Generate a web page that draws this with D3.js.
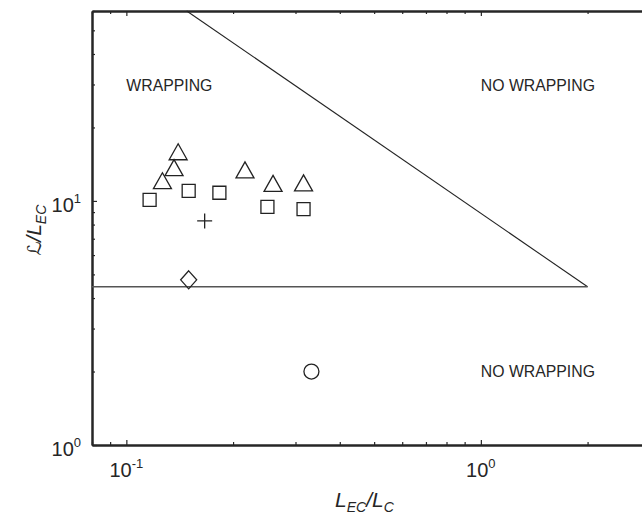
<!DOCTYPE html>
<html>
  <head>
    <style>
      body {
        margin: 0;
        background: #fff;
        overflow: hidden;
      }
      svg {
        display: block;
        overflow: hidden;
      }
      svg text {
        font-family: "Liberation Sans", Arial, sans-serif;
        fill: #262626;
      }
      .axis path,
      .axis line {
        stroke: #262626;
      }
    </style>
    <script src="https://d3js.org/d3.v7.min.js"></script>
  </head>
  <body>
    <script>
      // data (L_EC/L_C, L/L_EC)
      const triangles = [
        [0.14, 15.9],
        [0.1363, 13.7],
        [0.1264, 12.1],
        [0.2161, 13.4],
        [0.2593, 11.8],
        [0.3161, 11.85],
      ];
      const squares = [
        [0.1163, 10.1],
        [0.1499, 11.0],
        [0.183, 10.8],
        [0.25, 9.45],
        [0.3161, 9.25],
      ];
      const pluses = [[0.1663, 8.28]];
      const diamonds = [[0.1499, 4.75]];
      const circles = [[0.3327, 2.0]];

      // regime boundaries
      const diagLine = [
        [0.148, 60],
        [2, 4.45],
      ];
      const flatLine = [
        [0.08, 4.45],
        [2, 4.45],
      ];

      const xMajor = [0.1, 1];
      const xExp = ["-1", "0"];
      const xMinor = [0.08, 0.09, 0.2, 0.3, 0.4, 0.5, 0.6, 0.7, 0.8, 0.9, 2];
      const yMajor = [1, 10];
      const yExp = ["0", "1"];
      const yMinor = [2, 3, 4, 5, 6, 7, 8, 9, 20, 30, 40, 50, 60];

      const regionLabels = [
        { text: "WRAPPING", x: 0.1, y: 28.2 },
        { text: "NO WRAPPING", x: 1, y: 28.2 },
        { text: "NO WRAPPING", x: 1, y: 1.9 },
      ];

      const width = 642;
      const height = 516;
      const mLeft = 92;
      const mTop = 11;
      const mRight = 650; // right frame falls just outside the picture
      const mBottom = 445;

      const svg = d3
        .select("body")
        .append("svg")
        .attr("width", width)
        .attr("height", height);

      const x = d3.scaleLog().domain([0.08, 3]).range([mLeft, mRight]);
      const y = d3.scaleLog().domain([1, 60]).range([mBottom, mTop]);

      // ticks point inward
      const addAxis = (axis, tr, vals, size) => {
        svg
          .append("g")
          .attr("class", "axis")
          .attr("transform", tr)
          .call(axis.tickValues(vals).tickSize(size).tickSizeOuter(0).tickFormat(""))
          .call((g) => g.select(".domain").attr("stroke-width", 2))
          .call((g) => g.selectAll(".tick line").attr("stroke-width", 1.2));
      };

      addAxis(d3.axisBottom(x), `translate(0,${mBottom})`, xMinor, -3);
      addAxis(d3.axisBottom(x), `translate(0,${mBottom})`, xMajor, -5);
      addAxis(d3.axisTop(x), `translate(0,${mTop})`, xMinor, -3);
      addAxis(d3.axisTop(x), `translate(0,${mTop})`, xMajor, -5);
      addAxis(d3.axisLeft(y), `translate(${mLeft},0)`, yMinor, -3);
      addAxis(d3.axisLeft(y), `translate(${mLeft},0)`, yMajor, -5);

      // tick labels with superscript exponents
      const xl = svg
        .selectAll(".xlab")
        .data(xMajor)
        .join("text")
        .attr("class", "xlab")
        .attr("x", (d) => x(d))
        .attr("y", mBottom + 32)
        .attr("text-anchor", "middle")
        .style("font-size", "20px");
      xl.append("tspan").text("10");
      xl.append("tspan")
        .attr("dy", -9)
        .style("font-size", "13px")
        .text((d, i) => xExp[i]);

      const yl = svg
        .selectAll(".ylab")
        .data(yMajor)
        .join("text")
        .attr("class", "ylab")
        .attr("x", 81)
        .attr("y", (d) => y(d) + 11)
        .attr("text-anchor", "end")
        .style("font-size", "20px");
      yl.append("tspan").text("10");
      yl.append("tspan")
        .attr("dy", -9)
        .style("font-size", "13px")
        .text((d, i) => yExp[i]);

      // axis titles
      const xt = svg
        .append("text")
        .attr("x", 335)
        .attr("y", 507)
        .style("font-size", "21px")
        .style("font-style", "italic");
      xt.append("tspan").text("L");
      xt.append("tspan").attr("dy", 5).style("font-size", "14px").text("EC");
      xt.append("tspan").attr("dy", -5).text("/L");
      xt.append("tspan").attr("dy", 5).style("font-size", "14px").text("C");

      const yt = svg
        .append("text")
        .attr("transform", "translate(41,230) rotate(-90)")
        .attr("text-anchor", "middle")
        .style("font-size", "21px")
        .style("font-style", "italic");
      yt.append("tspan")
        .style("font-family", "'DejaVu Sans'")
        .style("font-size", "19px")
        .text("\u2112");
      yt.append("tspan").text("/L");
      yt.append("tspan").attr("dy", 5).style("font-size", "14px").text("EC");

      // boundaries
      const line = d3
        .line()
        .x((d) => x(d[0]))
        .y((d) => y(d[1]));
      svg
        .append("path")
        .datum(diagLine)
        .attr("d", line)
        .attr("fill", "none")
        .attr("stroke", "#222")
        .attr("stroke-width", 1.1);
      svg
        .append("path")
        .datum(flatLine)
        .attr("d", line)
        .attr("fill", "none")
        .attr("stroke", "#555")
        .attr("stroke-width", 1.4);

      svg
        .selectAll(".region")
        .data(regionLabels)
        .join("text")
        .attr("class", "region")
        .attr("x", (d) => x(d.x))
        .attr("y", (d) => y(d.y))
        .style("font-size", "15.8px")
        .text((d) => d.text);

      // markers
      const shapes = {
        tri: "M0,-8L9,8L-9,8Z",
        sq: "M-6.5,-6.5H6.5V6.5H-6.5Z",
        plus: "M-7.5,0H7.5M0,-7.5V7.5",
        dia: "M0,-9L8,0L0,9L-8,0Z",
      };
      const drawMarks = (data, shape) => {
        svg
          .append("g")
          .selectAll("path")
          .data(data)
          .join("path")
          .attr("transform", (d) => `translate(${x(d[0])},${y(d[1])})`)
          .attr("d", shapes[shape])
          .attr("fill", "none")
          .attr("stroke", "#222")
          .attr("stroke-width", 1.3);
      };
      drawMarks(triangles, "tri");
      drawMarks(squares, "sq");
      drawMarks(pluses, "plus");
      drawMarks(diamonds, "dia");

      svg
        .append("g")
        .selectAll("circle")
        .data(circles)
        .join("circle")
        .attr("cx", (d) => x(d[0]))
        .attr("cy", (d) => y(d[1]))
        .attr("r", 7.5)
        .attr("fill", "none")
        .attr("stroke", "#222")
        .attr("stroke-width", 1.3);
    </script>
  </body>
</html>
